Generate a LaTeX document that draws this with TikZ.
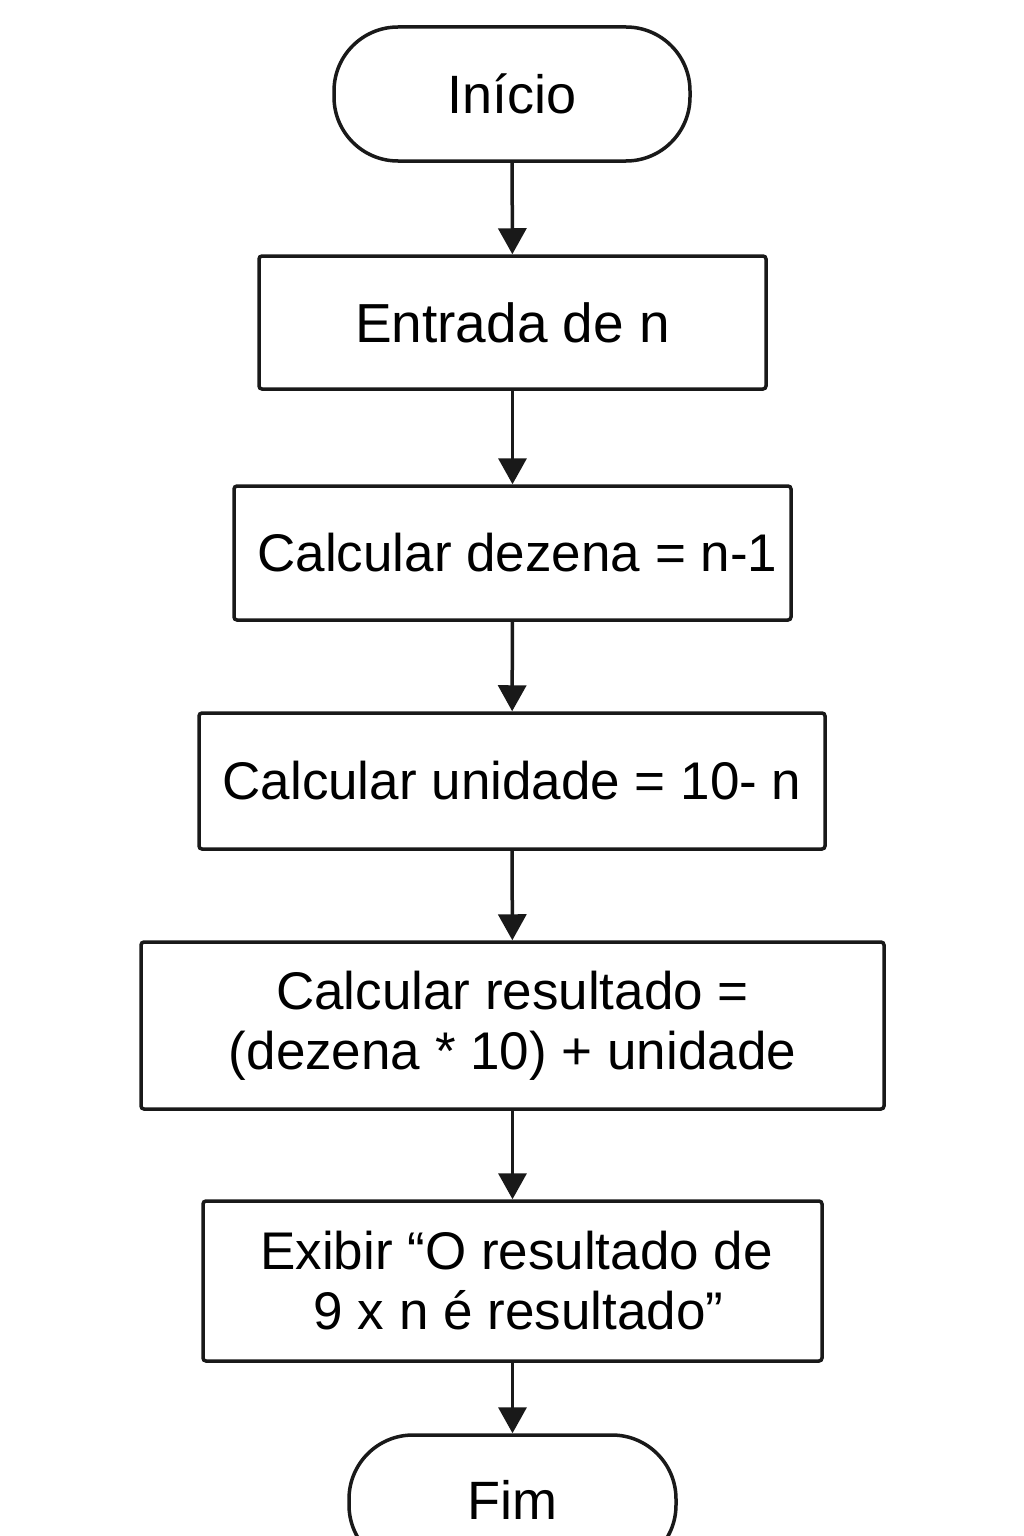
\documentclass[tikz,border=0pt]{standalone}
\usepackage{fontspec}
\setmainfont{Liberation Sans}
\usetikzlibrary{arrows.meta,shapes.misc}
\begin{document}
\begin{tikzpicture}[x=1pt,y=-1pt,
  box/.style={draw=black!90,line width=3.5pt,rounded corners=3pt,fill=white,
    inner sep=0pt,align=center,font=\fontsize{53}{60}\selectfont},
  term/.style={draw=black!90,line width=3.5pt,rounded corners=64pt,fill=white,
    inner sep=0pt,align=center,font=\fontsize{54}{60}\selectfont},
  flow/.style={line width=3.5pt,draw=black!90,-{Triangle[width=28pt,length=26pt]}}]
\useasboundingbox (0,0) rectangle (1024,1536);
\fill[white] (0,0) rectangle (1024,1536);
\node[term,minimum width=356pt,minimum height=134pt] (start) at (512,94) {Início};
\node[box,minimum width=507pt,minimum height=133pt,font=\fontsize{55}{60}\selectfont] (entrada) at (512.5,322.5) {Entrada de n};
\node[box,minimum width=557pt,minimum height=134pt] (dezena) at (512.5,553) {\hspace*{10pt}Calcular dezena = n-1};
\node[box,minimum width=626pt,minimum height=136pt] (unidade) at (512,781) {Calcular unidade = 10- n};
\node[box,minimum width=743pt,minimum height=167pt] (resultado) at (512.5,1025.5) {Calcular resultado =\\(dezena * 10) + unidade};
\node[box,minimum width=619pt,minimum height=160pt] (exibir) at (512.5,1281) {\hspace*{8pt}Exibir “O resultado de\\\hspace*{12pt}9 x n é resultado”};
\node[term,minimum width=327pt,minimum height=134pt] (fim) at (512.5,1502) {\raisebox{5pt}{Fim}};
\draw[flow] (start) -- (entrada);
\draw[flow] (entrada) -- (dezena);
\draw[flow] (dezena) -- (unidade);
\draw[flow] (unidade) -- (resultado);
\draw[flow] (resultado) -- (exibir);
\draw[flow] (exibir) -- (fim);
\end{tikzpicture}
\end{document}
